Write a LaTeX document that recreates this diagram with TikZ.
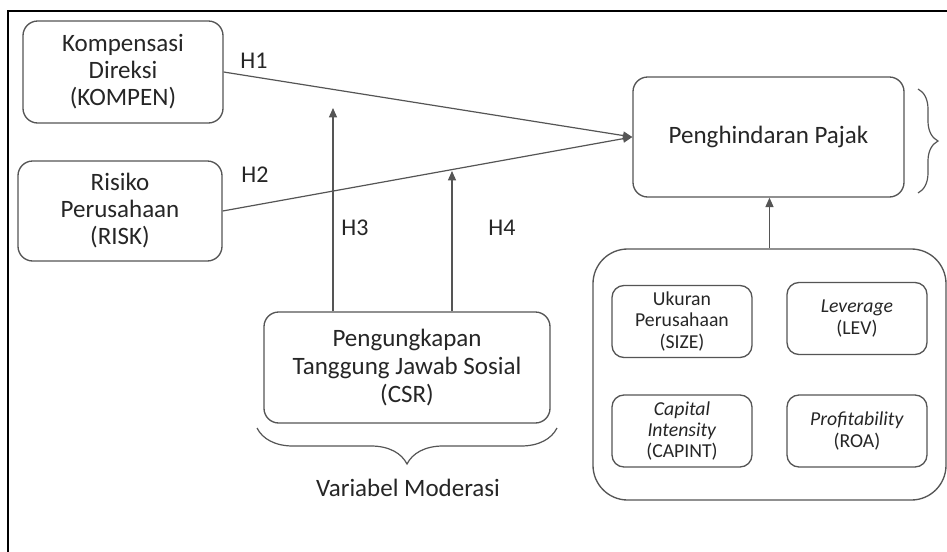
\documentclass[tikz,border=0pt]{standalone}
\usepackage{fontspec}
\setmainfont{Carlito}
\usetikzlibrary{arrows.meta,decorations.pathreplacing}
\definecolor{boxgray}{HTML}{555555}
\definecolor{txtgray}{HTML}{262626}
\begin{document}
\begin{tikzpicture}[x=0.75pt,y=-0.75pt,
  box/.style={draw=boxgray, line width=1pt, rounded corners=11pt, align=center,
    inner sep=0pt, text=txtgray, font=\fontsize{18.75}{20.25}\selectfont},
  smallbox/.style={box, rounded corners=9pt, minimum width=105pt, minimum height=54pt,
    font=\fontsize{14.8}{16}\selectfont},
  conn/.style={draw=boxgray, line width=0.9pt, -{Triangle[length=7pt,width=6pt]}},
  hlab/.style={text=txtgray, font=\fontsize{18}{20}\selectfont},
  bracestyle/.style={draw=boxgray, line width=0.9pt, decorate},
  frame/.style={draw=black, line width=1.8pt}]
\useasboundingbox (0,0) rectangle (947,551);
\clip (0,0) rectangle (947,551);
\fill[white] (0,0) rectangle (947,551);
% outer frame (only top and left edges visible)
\draw[frame] (8,600) -- (8,11) -- (1000,11);

% boxes
\node[box, minimum width=150pt, minimum height=76.5pt] (kompen) at (123,72)
  {Kompensasi\\Direksi\\(KOMPEN)};
\node[box, minimum width=153pt, minimum height=75pt] (risk) at (120,211)
  {Risiko\\Perusahaan\\(RISK)};
\node[box, minimum width=203.25pt, minimum height=90pt] (pajak) at (768.5,137)
  {Penghindaran Pajak};
\node[box, minimum width=214.5pt, minimum height=83.25pt,
  font=\fontsize{18.75}{21}\selectfont] (csr) at (407,367.5)
  {Pengungkapan\\Tanggung Jawab Sosial\\(CSR)};
\node[box, rounded corners=26pt, minimum width=264.75pt, minimum height=188.25pt] (ctrl) at (769.5,374.5) {};
\node[smallbox] (size) at (682,321.5) {Ukuran\\Perusahaan\\(SIZE)};
\node[smallbox] (lev) at (857,318.5) {\textit{Leverage}\\(LEV)};
\node[smallbox] (capint) at (682,431) {\textit{Capital}\\\textit{Intensity}\\(CAPINT)};
\node[smallbox] (roa) at (857,431) {\textit{Profitability}\\(ROA)};

% connectors
\draw[conn] (kompen.east) -- (pajak.west);
\draw[conn] (risk.east) -- (pajak.west);
\coordinate (h3end) at (333,108);
\coordinate (h4end) at (452,171);
\draw[conn] (csr.north -| h3end) -- (h3end);
\draw[conn] (csr.north -| h4end) -- (h4end);
\draw[conn] (ctrl.north) -- (ctrl.north |- pajak.south);

% labels
\node[hlab] (h1) at (254,61) {H1};
\node[hlab] (h2) at (255,175) {H2};
\node[hlab] (h3) at (355,228) {H3};
\node[hlab] (h4) at (502,228) {H4};

% braces
\coordinate (rb1) at (918,89);
\coordinate (rb2) at (918,193);
\draw[bracestyle, decoration={brace, amplitude=15pt}] (rb1) -- (rb2);
\coordinate (bb1) at (557,428);
\coordinate (bb2) at (257,428);
\draw[bracestyle, decoration={brace, amplitude=27pt}] (bb1) -- (bb2);
\node[hlab, font=\fontsize{18.75}{20}\selectfont] (mod) at (408,488) {Variabel Moderasi};
\end{tikzpicture}
\end{document}
